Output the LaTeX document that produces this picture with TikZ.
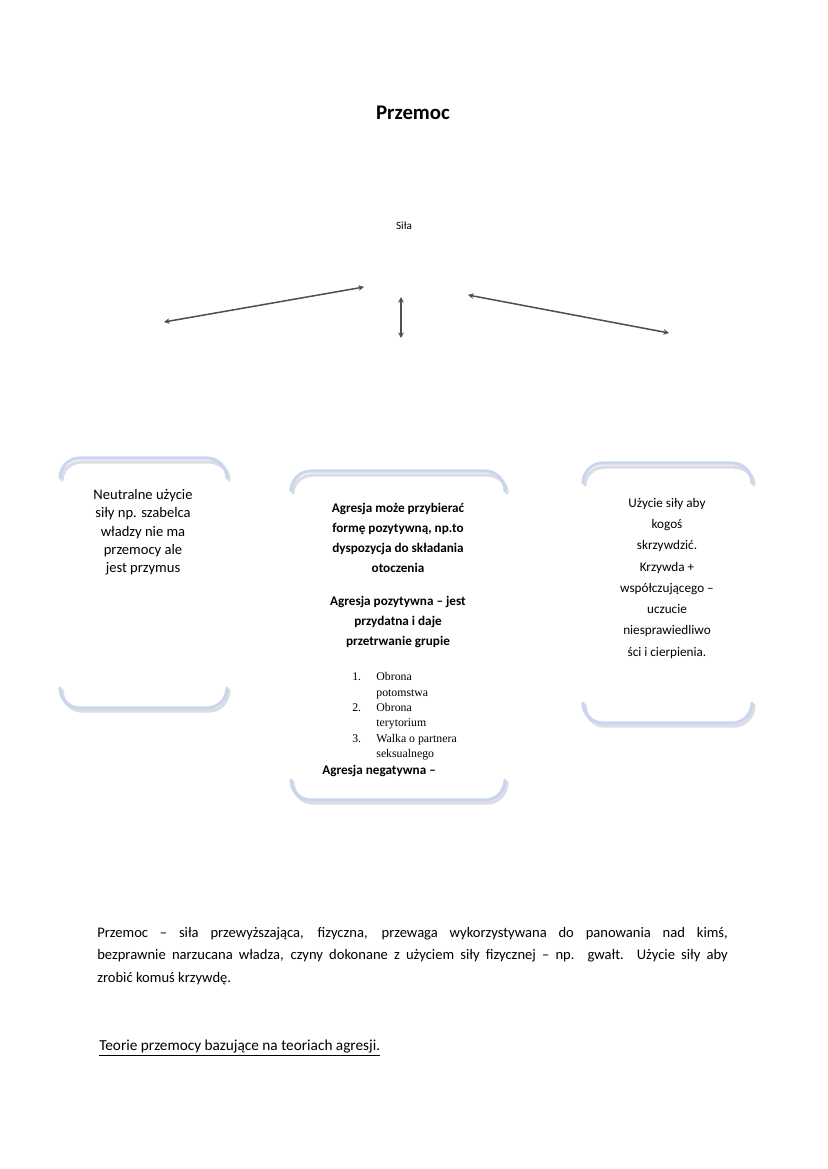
\documentclass[tikz,border=0pt]{standalone}
\usepackage{fontspec}
\setmainfont{Carlito}
\newfontfamily\serifx{Liberation Serif}
\usetikzlibrary{arrows.meta}
\definecolor{brk}{RGB}{202,213,240}
\definecolor{shd}{RGB}{220,220,228}
\definecolor{arr}{RGB}{80,80,80}
\tikzset{
  bracketline/.style={draw=brk, line width=2.2pt, line cap=round},
  shadowline/.style={draw=shd, line width=2.4pt, line cap=round},
  conn/.style={draw=arr, line width=1.1pt, {Stealth[length=4pt,width=4pt]}-{Stealth[length=4pt,width=4pt]}},
  boxtext/.style={align=center, font=\fontsize{10.5}{13.2}\selectfont, inner sep=0pt},
}
\newcommand{\bracketbox}[4]{% x1 y1 x2 y2
  \draw[shadowline] (#1+2,#2+22) to[out=90,in=180] (#1+22,#2+4) -- (#3-18,#2+4) to[out=0,in=90] (#3+2,#2+22);
  \draw[shadowline] (#1+2,#4-18) to[out=-90,in=180] (#1+22,#4+3) -- (#3-18,#4+3) to[out=0,in=-90] (#3+2,#4-18);
  \draw[bracketline] (#1,#2+20) to[out=90,in=180] (#1+20,#2) -- (#3-20,#2) to[out=0,in=90] (#3,#2+20);
  \draw[bracketline] (#1,#4-20) to[out=-90,in=180] (#1+20,#4) -- (#3-20,#4) to[out=0,in=-90] (#3,#4-20);
}
\begin{document}
\begin{tikzpicture}[x=0.72pt,y=-0.72pt]
\useasboundingbox (0,0) rectangle (827,1169);
\fill[white] (0,0) rectangle (827,1169);

\node[font=\bfseries\fontsize{15}{17}\selectfont] (title) at (413,113) {Przemoc};
\node[font=\fontsize{8}{10}\selectfont] (sila) at (404,226) {Siła};

\coordinate (l1) at (164,322);
\coordinate (l2) at (364,287);
\coordinate (v1) at (401,297);
\coordinate (v2) at (401,338);
\coordinate (r1) at (468,295);
\coordinate (r2) at (669,333);
\draw[conn] (l1) -- (l2);
\draw[conn] (v1) -- (v2);
\draw[conn] (r1) -- (r2);

\bracketbox{60}{458}{227}{708}
\bracketbox{291}{471}{505}{800}
\bracketbox{583}{463}{752}{723}

\node[boxtext, anchor=north] (lt) at (143,489) {Neutralne użycie\\siły np. szabelca\\władzy nie ma\\przemocy ale\\jest przymus};

\node[boxtext, font=\bfseries\fontsize{9.5}{14.3}\selectfont, anchor=north] (ct1) at (398,503) {Agresja może przybierać\\formę pozytywną, np.to\\dyspozycja do składania\\otoczenia};
\node[boxtext, font=\bfseries\fontsize{9.5}{14.3}\selectfont, anchor=north] (ct2) at (398,596) {Agresja pozytywna – jest\\przydatna i daje\\przetrwanie grupie};
\node[anchor=north west, inner sep=0pt, align=left, font=\serifx\fontsize{8.5}{11}\selectfont] (cl) at (352,670) {%
\begin{tabular}{@{}l@{\hspace{11pt}}l@{}}
1. & Obrona\\
   & potomstwa\\
2. & Obrona\\
   & terytorium\\
3. & Walka o partnera\\
   & seksualnego
\end{tabular}};
\node[boxtext, font=\bfseries\fontsize{9.5}{13}\selectfont, anchor=west] (ct3) at (322,771) {Agresja negatywna –};

\node[boxtext, font=\fontsize{9.5}{15.3}\selectfont, anchor=north] (rt) at (667,498) {Użycie siły aby\\kogoś\\skrzywdzić.\\Krzywda +\\współczującego –\\uczucie\\niesprawiedliwo\\ści i cierpienia.};

\node[anchor=north west, inner sep=0pt, text width=454pt, align=justify, font=\fontsize{10.5}{16.2}\selectfont] (para) at (97,927) {Przemoc – siła przewyższająca, fizyczna, przewaga wykorzystywana do panowania nad kimś,\linebreak bezprawnie narzucana władza, czyny dokonane z użyciem siły fizycznej – np. gwałt. Użycie siły aby\linebreak zrobić komuś krzywdę.};

\node[anchor=west, inner sep=0pt, font=\fontsize{11}{13}\selectfont] (teorie) at (99,1048) {\underline{Teorie przemocy bazujące na teoriach agresji.}};
\end{tikzpicture}
\end{document}
